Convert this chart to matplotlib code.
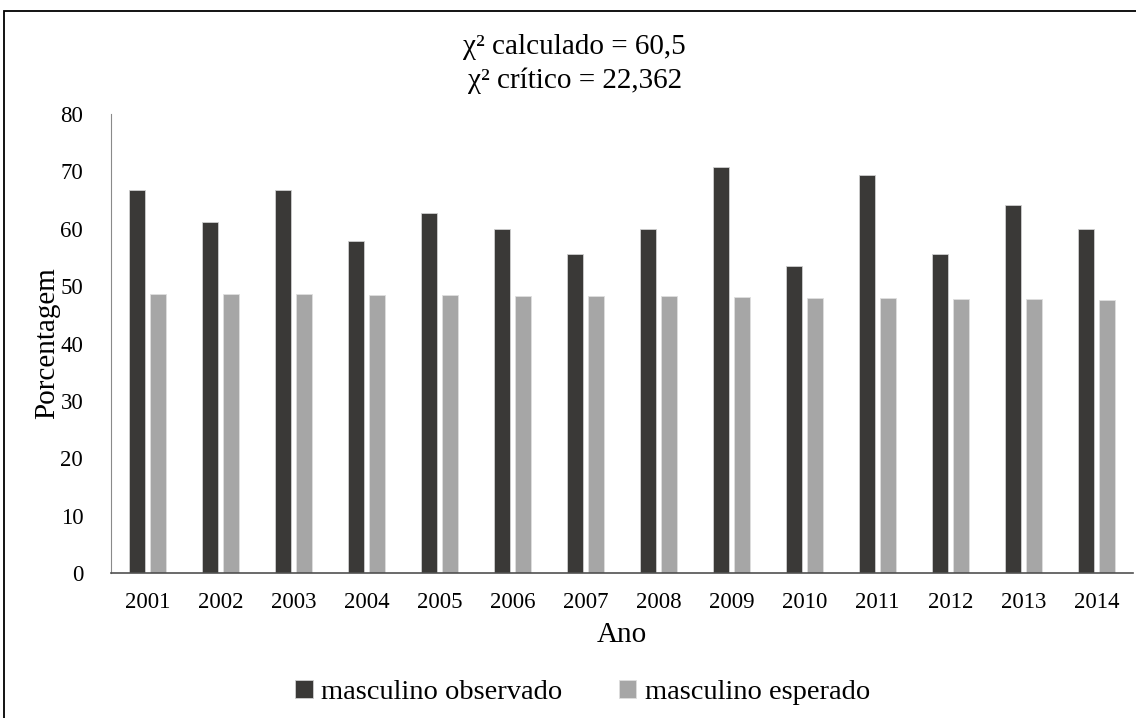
import numpy as np
import matplotlib
matplotlib.use("Agg")
from matplotlib import pyplot as plt
from matplotlib.patches import Rectangle

# data
anos = ["2001", "2002", "2003", "2004", "2005", "2006", "2007",
        "2008", "2009", "2010", "2011", "2012", "2013", "2014"]
observado = [66.7, 61.1, 66.7, 57.9, 62.8, 60.0, 55.6,
             60.0, 70.7, 53.5, 69.4, 55.6, 64.2, 60.0]
esperado = [48.7, 48.6, 48.6, 48.4, 48.4, 48.3, 48.3,
            48.2, 48.1, 48.0, 48.0, 47.8, 47.7, 47.5]

serif = ['Liberation Serif', 'DejaVu Serif']
plt.rcParams['font.family'] = serif

fig = plt.figure(figsize=(11.36, 7.18), dpi=100)
ax = fig.add_axes([0.0977, 0.2019, 0.8996, 0.6393])

x = np.arange(len(anos))
w = 0.225
ax.bar(x - 0.143, observado, w, color='#3a3937', edgecolor='#cfcfcf', linewidth=0.6,
       label='masculino observado')
ax.bar(x + 0.143, esperado, w, color='#a6a6a6', edgecolor='#dedede', linewidth=0.6,
       label='masculino esperado')

ax.set_xlim(-0.5, len(anos) - 0.5)
ax.set_ylim(0, 80)
ax.set_yticks(range(0, 81, 10))
ax.set_xticks(x)
ax.set_xticklabels(anos)
ax.tick_params(axis='both', length=0, labelsize=16.5)
ax.tick_params(axis='y', pad=20)
ax.tick_params(axis='x', pad=14)
for s in ['top', 'right']:
    ax.spines[s].set_visible(False)
ax.spines['left'].set_color('#8a8a8a')
ax.spines['bottom'].set_color('#505050')
ax.spines['bottom'].set_linewidth(1.2)

ax.set_ylabel('Porcentagem', fontsize=21, labelpad=0)
ax.set_xlabel('Ano', fontsize=21, labelpad=6)

fig.text(0.506, 0.935, 'χ² calculado = 60,5', ha='center', va='center',
         fontsize=21, family=serif)
fig.text(0.506, 0.887, 'χ² crítico = 22,362', ha='center', va='center',
         fontsize=21, family=serif)

fig.legend(loc='center', bbox_to_anchor=(0.513, 0.035), ncol=2, frameon=False,
           prop={'family': serif, 'size': 20.5}, handlelength=0.6, handleheight=0.6,
           handletextpad=0.3, columnspacing=2.0)

# outer frame like the exported Excel chart
fig.patches.append(Rectangle((0.0035, -0.05), 1.1, 0.9847 + 0.05, transform=fig.transFigure,
                             fill=False, edgecolor='black', linewidth=1.3))

fig.savefig('out.png', dpi=100)
